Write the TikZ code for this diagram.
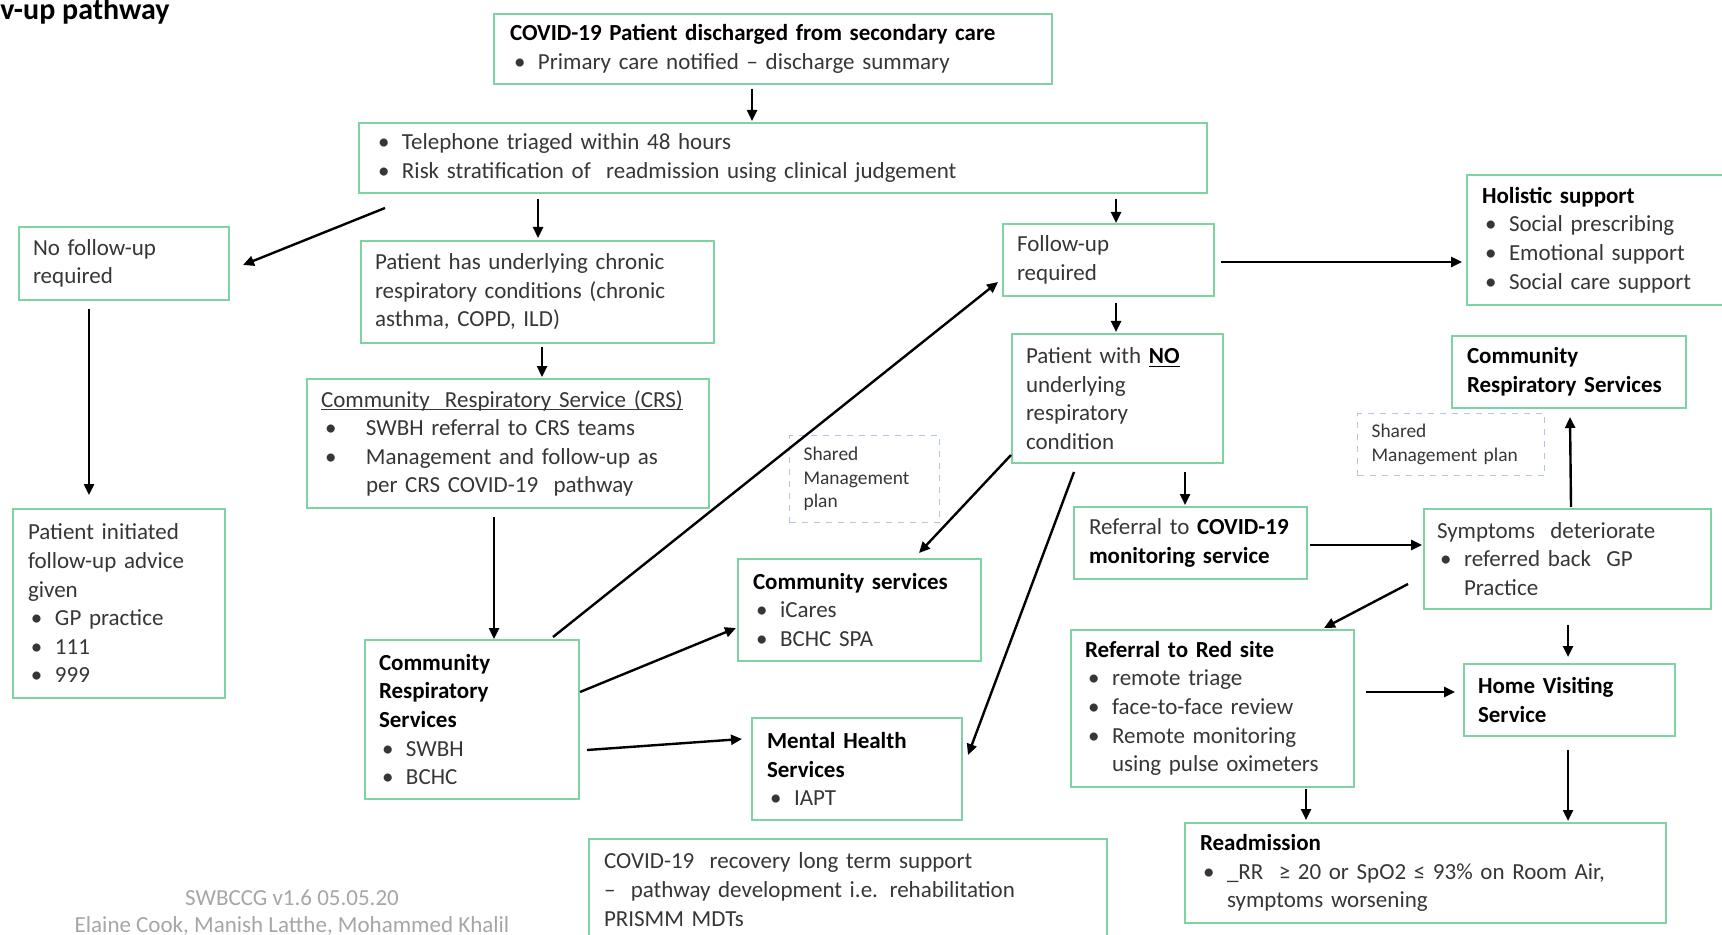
\documentclass[tikz,border=0pt]{standalone}
\usepackage{fontspec}
\setmainfont{Carlito}
\usetikzlibrary{arrows.meta,calc}
\definecolor{boxgreen}{HTML}{7FD3A2}
\definecolor{txt}{HTML}{363636}
\definecolor{dashblue}{HTML}{B4C6E7}
\definecolor{foot}{HTML}{A6A6A6}
\newcommand{\hdr}[1]{{\bfseries\color{black}#1}}
\newcommand{\bul}{\hspace*{1.5pt}\makebox[12pt][l]{\textbullet}}
\newcommand{\cont}{\hspace*{13.5pt}}
\newcommand{\myul}[1]{\leavevmode\setbox0\hbox{#1}\rlap{\rule[-1.6pt]{\wd0}{0.55pt}}\box0}
\begin{document}
\begin{tikzpicture}[x=0.5pt,y=-0.5pt,
  box/.style={draw=boxgreen, line width=1pt, anchor=north west, align=left,
    inner xsep=7pt, inner ysep=0pt, text=txt, font=\fontsize{11.5}{14.3}\selectfont},
  shbox/.style={draw=dashblue, dashed, line width=0.6pt, anchor=north west, align=left,
    inner xsep=7pt, inner ysep=0pt, text=txt, font=\fontsize{9.7}{11.8}\selectfont},
  arr/.style={draw=black, line width=1.2pt, -{Triangle[length=5.5pt,width=5pt]}},
  foottxt/.style={text=foot, anchor=base, inner sep=0pt, font=\fontsize{11.5}{14.3}\selectfont}
]
\useasboundingbox (0,0) rectangle (1722,935);

\node[anchor=base west, inner sep=0pt, font=\bfseries\fontsize{15}{18}\selectfont] (title) at (0,20) {v-up pathway};

\node[box, inner xsep=8pt, minimum width=279pt, minimum height=35pt, text width=263pt] (top) at (493,13)
 {\hdr{COVID-19 Patient discharged from secondary care}\\ \hspace*{2pt}\makebox[12pt][l]{\textbullet}Primary care notified – discharge summary};

\node[box, inner xsep=9.5pt, minimum width=424pt, minimum height=35pt, text width=405pt] (tel) at (358,122)
 {\makebox[12pt][l]{\textbullet}Telephone triaged within 48 hours\\ \makebox[12pt][l]{\textbullet}Risk stratification of\ \ readmission using clinical judgement};

\node[box, minimum width=105pt, minimum height=36.5pt, text width=91pt] (nofu) at (18,226)
 {No follow-up\\required};

\node[box, minimum width=176.5pt, minimum height=51pt, text width=162.5pt] (chr) at (360,240)
 {Patient has underlying chronic\\respiratory conditions (chronic\\asthma, COPD, ILD)};

\node[box, minimum width=201pt, minimum height=64.5pt, text width=187pt] (crs) at (306,378)
 {\myul{Community\ \ Respiratory Service (CRS)}\\ \hspace*{2pt}\makebox[20.5pt][l]{\textbullet}SWBH referral to CRS teams\\ \hspace*{2pt}\makebox[20.5pt][l]{\textbullet}Management and follow-up as\\ \hspace*{22.5pt}per CRS COVID-19\ \ pathway};

\node[box, inner xsep=7.5pt, minimum width=106pt, minimum height=94.5pt, text width=91pt] (pin) at (12,508)
 {Patient initiated\\follow-up advice\\given\\ \bul GP practice\\ \bul 111\\ \bul 999};

\node[box, minimum width=105.5pt, minimum height=36pt, text width=91.5pt] (fu) at (1002,223)
 {Follow-up\\required};

\node[box, inner xsep=7.5pt, minimum width=147pt, minimum height=65pt, text width=132pt] (hol) at (1466,174)
 {\hdr{Holistic support}\\ \bul Social prescribing\\ \bul Emotional support\\ \bul Social care support};

\node[box, inner xsep=7.5pt, minimum width=117pt, minimum height=36pt, text width=102pt] (crsR) at (1451,335)
 {\hdr{Community}\\ \hdr{\mbox{Respiratory Services}}};

\node[shbox, minimum width=93.5pt, minimum height=31pt, text width=79.5pt] (shR) at (1357,413)
 {Shared\\Management plan};

\node[box, minimum width=105.5pt, minimum height=64.5pt, text width=91.5pt] (no) at (1011,333)
 {Patient with \hdr{\myul{NO}}\\underlying\\respiratory\\condition};

\node[shbox, minimum width=75pt, minimum height=43.5pt, text width=61pt] (shM) at (789,435)
 {Shared\\Management\\plan};

\node[box, inner xsep=7.5pt, minimum width=116.5pt, minimum height=36pt, text width=101.5pt] (mon) at (1073,506)
 {\mbox{Referral to \hdr{COVID-19}}\\ \hdr{\mbox{monitoring service}}};

\node[box, inner xsep=6.5pt, minimum width=143.5pt, minimum height=50pt, text width=130.5pt] (sym) at (1423,508)
 {Symptoms\ \ deteriorate\\ \bul referred back\ \ GP\\ \cont Practice};

\node[box, inner xsep=7.5pt, minimum width=121.5pt, minimum height=51pt, text width=106.5pt] (cs) at (737,558)
 {\hdr{Community services}\\ \bul iCares\\ \bul BCHC SPA};

\node[box, minimum width=107pt, minimum height=79.5pt, text width=93pt] (crsB) at (364,639)
 {\hdr{Community}\\ \hdr{Respiratory}\\ \hdr{Services}\\ \bul SWBH\\ \bul BCHC};

\node[box, inner xsep=7.5pt, minimum width=105pt, minimum height=51pt, text width=90pt] (mh) at (751,717)
 {\hdr{Mental Health}\\ \hdr{Services}\\ \bul IAPT};

\node[box, minimum width=141.5pt, minimum height=78.5pt, text width=127.5pt] (red) at (1070,629)
 {\hdr{Referral to Red site}\\ \bul remote triage\\ \bul face-to-face review\\ \bul Remote monitoring\\ \cont using pulse oximeters};

\node[box, minimum width=105.5pt, minimum height=36pt, text width=91.5pt] (home) at (1463,663)
 {\hdr{Home Visiting}\\ \hdr{Service}};

\node[box, inner xsep=7.5pt, minimum width=240.5pt, minimum height=50pt, text width=225.5pt] (readm) at (1184,822)
 {\hdr{Readmission}\\ \bul\_RR\ \ ≥ 20 or SpO2 ≤ 93\% on Room Air,\\ \cont symptoms worsening};

\node[box, inner xsep=7.5pt, minimum width=259pt, minimum height=50.5pt, text width=244pt] (rec) at (588,838)
 {COVID-19\ \ recovery long term support\\ –\ \ pathway development i.e. rehabilitation\\ PRISMM MDTs};

\node[foottxt] (ft1) at (292,905) {SWBCCG v1.6 05.05.20};
\node[foottxt] (ft2) at (292,932) {Elaine Cook, Manish Latthe, Mohammed Khalil};

\draw[arr] ($(top.south west)+(259,4)$) -- ($(tel.north west)+(394,-1)$);
\draw[arr] ($(tel.south west)+(27,14)$) -- ($(nofu.north east)+(13,39)$);
\draw[arr] ($(tel.south west)+(180,5)$) -- ($(chr.north west)+(178,-2)$);
\draw[arr] ($(tel.south west)+(758,5)$) -- ($(fu.north west)+(114,0)$);
\draw[arr] ($(nofu.south west)+(71,8)$) -- ($(pin.north west)+(77,-13)$);
\draw[arr] ($(chr.south west)+(182,3)$) -- ($(crs.north west)+(236,-1)$);
\draw[arr] ($(crs.south west)+(188,8)$) -- ($(crsB.north west)+(130,0)$);
\draw[arr] ($(crsB.north west)+(189,-2)$) -- ($(fu.north west)+(-4,59)$);
\draw[arr] ($(crsB.north east)+(0,53)$) -- ($(cs.north west)+(-1,70)$);
\draw[arr] ($(crsB.north east)+(7,111)$) -- ($(mh.north west)+(-9,22)$);
\draw[arr] ($(no.south west)+(0,-9)$) -- ($(cs.north west)+(182,-5)$);
\draw[arr] ($(no.south west)+(63,8)$) -- ($(mh.north east)+(5,38)$);
\draw[arr] ($(fu.south west)+(114,6)$) -- ($(no.north west)+(105,-1)$);
\draw[arr] ($(fu.north east)+(6,39)$) -- ($(hol.north west)+(-4,88)$);
\draw[arr] ($(no.south west)+(174,8)$) -- ($(mon.north west)+(112,-1)$);
\draw[arr] ($(mon.north east)+(2,39)$) -- ($(sym.north west)+(-1,37)$);
\draw[arr] ($(sym.north west)+(148,-1)$) -- ($(crsR.south west)+(119,8)$);
\draw[arr] ($(sym.north west)+(-15,76)$) -- ($(red.north west)+(254,-1)$);
\draw[arr] ($(sym.south west)+(145,15)$) -- ($(home.north west)+(105,-6)$);
\draw[arr] ($(red.north east)+(11,63)$) -- ($(home.north west)+(-8,29)$);
\draw[arr] ($(red.south west)+(236,1)$) -- ($(readm.north west)+(122,-2)$);
\draw[arr] ($(home.south west)+(105,13)$) -- ($(readm.north west)+(384,-1)$);
\end{tikzpicture}
\end{document}
